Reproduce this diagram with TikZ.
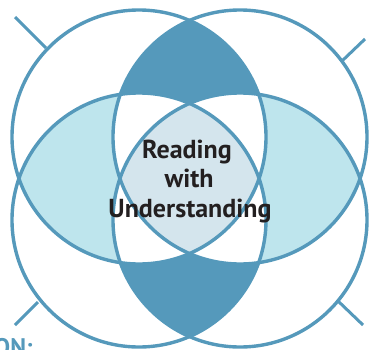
\documentclass[tikz,border=0pt]{standalone}
\usepackage{fontspec}
\setmainfont{PT Sans}
\definecolor{ringblue}{HTML}{5599BB}
\definecolor{lenslight}{HTML}{BEE5ED}
\definecolor{lenscore}{HTML}{D4E5ED}
\definecolor{inkdark}{HTML}{231F20}
\tikzset{
  ring/.style={draw=ringblue,line width=3.4pt},
  tick/.style={draw=ringblue,line width=3pt},
  label/.style={inner sep=0pt,anchor=base,text=inkdark,font=\fontsize{26}{26}\selectfont\bfseries},
}
\begin{document}
\begin{tikzpicture}[x=1pt,y=-1pt]
\useasboundingbox (0,0) rectangle (369,349);
\clip (0,0) rectangle (369,349);
\def\R{127}
\coordinate (tl) at (139,137);
\coordinate (tr) at (240,137);
\coordinate (bl) at (139,220);
\coordinate (br) at (240,220);
% dark top and bottom lenses
\begin{scope}
  \clip (tl) circle (\R); \clip (tr) circle (\R);
  \fill[ringblue] (0,0) rectangle (369,349);
\end{scope}
\begin{scope}
  \clip (bl) circle (\R); \clip (br) circle (\R);
  \fill[ringblue] (0,0) rectangle (369,349);
\end{scope}
% side lenses
\begin{scope}
  \clip (tl) circle (\R); \clip (bl) circle (\R);
  \fill[lenslight] (0,0) rectangle (369,349);
\end{scope}
\begin{scope}
  \clip (tr) circle (\R); \clip (br) circle (\R);
  \fill[lenslight] (0,0) rectangle (369,349);
\end{scope}
% three-circle regions are white
\begin{scope}
  \clip (tl) circle (\R); \clip (tr) circle (\R); \clip (bl) circle (\R);
  \fill[white] (0,0) rectangle (369,349);
\end{scope}
\begin{scope}
  \clip (tl) circle (\R); \clip (tr) circle (\R); \clip (br) circle (\R);
  \fill[white] (0,0) rectangle (369,349);
\end{scope}
\begin{scope}
  \clip (bl) circle (\R); \clip (br) circle (\R); \clip (tl) circle (\R);
  \fill[white] (0,0) rectangle (369,349);
\end{scope}
\begin{scope}
  \clip (bl) circle (\R); \clip (br) circle (\R); \clip (tr) circle (\R);
  \fill[white] (0,0) rectangle (369,349);
\end{scope}
% core
\begin{scope}
  \clip (tl) circle (\R); \clip (tr) circle (\R); \clip (bl) circle (\R); \clip (br) circle (\R);
  \fill[lenscore] (0,0) rectangle (369,349);
\end{scope}
\draw[ring] (tl) circle (\R);
\draw[ring] (tr) circle (\R);
\draw[ring] (bl) circle (\R);
\draw[ring] (br) circle (\R);
\coordinate (t1a) at (15,17);  \coordinate (t1b) at (46,48);
\coordinate (t2a) at (365,39); \coordinate (t2b) at (342,61);
\coordinate (t3a) at (15,325); \coordinate (t3b) at (38,302);
\coordinate (t4a) at (363,325);\coordinate (t4b) at (338,301);
\draw[tick] (t1a) -- (t1b);
\draw[tick] (t2a) -- (t2b);
\draw[tick] (t3a) -- (t3b);
\draw[tick] (t4a) -- (t4b);
\node[label] (l1) at (187,158) {Reading};
\node[label] (l2) at (189,187) {with};
\node[label] (l3) at (190,217) {Understanding};
\node[inner sep=0pt,anchor=base west,text=ringblue,font=\fontsize{24}{24}\selectfont\bfseries] (l4) at (-6,355) {ON:};
\end{tikzpicture}
\end{document}
